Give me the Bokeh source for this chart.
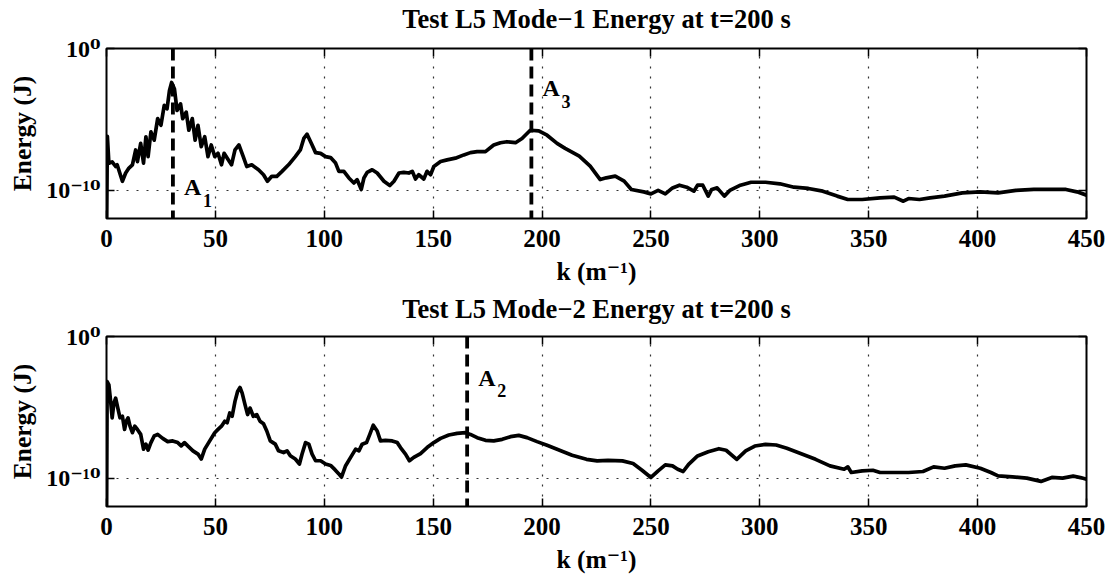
import numpy as np
from bokeh.plotting import figure
from bokeh.layouts import column
from bokeh.models import (Range1d, FixedTicker, LinearAxis, LogAxis, Span,
                          ColumnDataSource)
from bokeh.core.properties import value
from bokeh.embed import file_html
from bokeh.resources import INLINE

FONT = "Liberation Serif"
FONT_SUP = "Liberation Serif, DejaVu Serif"

# ---------------- data ----------------
x_ticks = [0, 50, 100, 150, 200, 250, 300, 350, 400, 450]
x_tick_labels = ["0", "50", "100", "150", "200", "250", "300", "350", "400", "450"]
y_ticks = [1e-10, 1e0]
y_tick_labels = ["10\u207b\u00b9\u2070", "10\u2070"]

title_1 = "Test L5 Mode\u22121 Energy at t=200 s"
title_2 = "Test L5 Mode\u22122 Energy at t=200 s"
x_label = "k (m\u207b\u00b9)"
y_label = "Energy (J)"

# Mode-1 spectrum: wavenumber k (1/m) and log10 of energy (J)
k_mode1 = [0, 0.4, 1.1, 2.6, 4.2, 4.9, 7.3, 8.8, 10.3, 11.9, 13.4, 14.2, 15.7, 17.0, 18.1,
           19.1, 20.4, 21.9, 23.5, 25.0, 26.5, 27.8, 28.9, 29.9, 31.2, 32.4, 34.0, 35.0,
           36.6, 37.8, 39.4, 40.7, 42.0, 43.5, 45.1, 46.6, 48.1, 49.7, 51.2, 52.8, 54.0,
           55.9, 57.4, 59.0, 60.8, 62.8, 64.4, 66.7, 69.8, 72.1, 73.9, 75.9, 78.2, 80.6,
           83.6, 86.7, 89.0, 90.6, 92.1, 94.1, 96.0, 98.3, 100.6, 102.9, 105.2, 106.7,
           109.0, 111.3, 113.6, 115.1, 117.0, 118.2, 119.7, 122.0, 124.3, 127.4, 130.1,
           132.0, 134.3, 136.5, 138.8, 140.4, 141.9, 143.4, 145.7, 147.2, 148.8, 150.3,
           153.4, 156.4, 160.2, 164.1, 167.1, 170.2, 174.0, 177.8, 180.9, 183.9, 187.8,
           190.8, 194.6, 198.5, 202.3, 206.9, 210.6, 217.1, 222.1, 226.7, 229.5, 233.6,
           237.7, 241.0, 246.7, 250.0, 253.3, 256.6, 259.9, 263.1, 266.4, 269.7, 271.4,
           273.8, 276.3, 277.9, 280.4, 283.7, 286.2, 291.1, 296.0, 302.6, 309.2, 315.7,
           322.3, 328.9, 335.5, 340.4, 347.0, 355.2, 361.7, 365.9, 368.3, 373.3, 378.2,
           384.8, 393.0, 401.2, 409.4, 417.6, 425.8, 434.1, 440.6, 445.6, 450.0]
log_e_mode1 = [-14, -6.2, -8.1, -8.0, -8.33, -8.21, -9.37, -8.79, -8.44, -8.21, -7.16, -7.98,
               -6.70, -8.09, -6.23, -7.63, -5.88, -6.47, -4.95, -5.42, -4.02, -4.26, -2.98,
               -2.40, -2.86, -4.37, -3.91, -4.95, -4.49, -5.77, -4.95, -6.47, -5.42, -6.93,
               -6.23, -7.63, -6.81, -7.63, -7.40, -8.21, -7.40, -7.86, -8.21, -7.16, -6.81,
               -7.63, -8.33, -8.21, -8.56, -8.91, -9.37, -9.02, -9.02, -8.67, -8.21, -7.63,
               -7.16, -6.35, -6.05, -6.70, -7.35, -7.40, -7.63, -7.70, -8.09, -8.67, -8.67,
               -9.14, -9.49, -9.26, -9.95, -9.14, -8.74, -8.56, -8.79, -9.37, -9.67, -9.37,
               -8.79, -8.74, -8.79, -8.67, -9.21, -8.91, -9.21, -8.67, -8.91, -8.33, -7.98,
               -7.86, -7.74, -7.51, -7.35, -7.28, -7.28, -6.81, -6.65, -6.58, -6.65, -6.35,
               -5.77, -5.81, -6.12, -6.70, -7.05, -7.60, -8.31, -9.25, -9.13, -9.01, -9.36,
               -9.95, -10.12, -10.26, -10.02, -10.26, -9.84, -9.65, -9.79, -10.07, -9.65,
               -9.65, -10.42, -9.95, -9.84, -10.42, -10.02, -9.65, -9.44, -9.44, -9.55,
               -9.79, -9.88, -10.07, -10.42, -10.66, -10.66, -10.54, -10.49, -10.78, -10.59,
               -10.66, -10.54, -10.42, -10.19, -10.12, -10.19, -10.02, -9.95, -9.95, -9.95,
               -10.12, -10.35]

# Mode-2 spectrum
k_mode2 = [0, 0.3, 1.1, 1.9, 2.6, 3.4, 4.2, 5.2, 6.2, 7.3, 8.3, 9.1, 9.9, 10.8, 11.9, 13.0,
           14.2, 15.7, 17.0, 18.1, 19.1, 20.4, 21.9, 23.5, 25.8, 28.1, 30.4, 32.7, 34.3,
           35.8, 37.3, 39.7, 42.0, 43.5, 45.1, 47.4, 49.7, 51.2, 52.8, 54.3, 55.4, 56.6,
           57.7, 59.0, 60.2, 61.3, 62.3, 63.6, 64.8, 65.9, 67.4, 69.0, 70.5, 72.1, 73.6,
           75.2, 77.5, 79.0, 81.3, 82.9, 84.4, 86.7, 88.6, 89.8, 91.4, 92.9, 94.4, 96.0,
           98.3, 100.6, 102.9, 104.9, 106.7, 107.9, 109.8, 112.1, 114.4, 115.9, 117.4,
           119.4, 120.9, 122.5, 124.3, 125.8, 128.1, 131.2, 133.5, 135.0, 137.3, 139.1,
           141.1, 144.2, 147.2, 150.3, 153.4, 157.2, 161.0, 164.8, 167.1, 170.2, 174.0,
           177.8, 181.7, 185.5, 189.3, 193.1, 197.7, 202.3, 208.9, 213.8, 220.4, 225.3,
           230.3, 236.9, 241.8, 245.9, 250.0, 253.3, 256.6, 259.9, 262.3, 264.8, 267.3,
           271.4, 276.3, 281.2, 284.5, 289.4, 293.5, 297.7, 302.6, 307.5, 312.4, 319.0,
           325.6, 332.2, 338.7, 340.4, 342.0, 347.0, 351.9, 355.2, 360.1, 368.3, 374.9,
           379.8, 384.8, 389.7, 394.6, 401.2, 406.1, 409.4, 416.0, 422.6, 429.1, 434.1,
           439.0, 443.9, 447.2, 450.0]
log_e_mode2 = [-14, -3.19, -3.42, -4.58, -5.74, -4.70, -4.35, -5.05, -5.74, -5.63, -6.56,
               -5.98, -5.74, -6.33, -6.79, -6.33, -6.56, -6.91, -7.95, -7.60, -8.02, -7.49,
               -7.02, -6.91, -7.19, -7.42, -7.37, -7.49, -7.72, -7.49, -7.72, -8.07, -8.30,
               -8.65, -7.95, -7.37, -6.79, -6.56, -6.33, -5.98, -6.09, -5.40, -5.63, -4.58,
               -3.88, -3.60, -4.00, -4.81, -5.51, -5.05, -5.63, -5.51, -5.98, -6.16, -6.67,
               -7.37, -7.60, -8.07, -8.19, -8.07, -8.42, -8.65, -9.00, -8.30, -7.49, -7.60,
               -8.30, -8.77, -8.77, -9.00, -9.10, -9.40, -9.70, -9.93, -9.12, -8.53, -7.95,
               -8.07, -7.60, -7.49, -6.91, -6.26, -6.67, -7.37, -7.33, -7.37, -7.49, -7.84,
               -8.30, -8.77, -8.53, -8.26, -7.84, -7.49, -7.19, -6.95, -6.84, -6.79, -6.91,
               -7.14, -7.33, -7.37, -7.26, -7.07, -6.98, -7.14, -7.42, -7.68, -8.08, -8.38,
               -8.67, -8.78, -8.74, -8.78, -8.97, -9.44, -9.95, -9.48, -9.06, -9.13, -9.37,
               -9.53, -9.02, -8.43, -8.13, -7.92, -8.03, -8.67, -8.08, -7.73, -7.61, -7.66,
               -7.89, -8.27, -8.67, -9.13, -9.37, -9.20, -9.60, -9.48, -9.44, -9.60, -9.60,
               -9.60, -9.53, -9.20, -9.30, -9.13, -9.06, -9.30, -9.60, -9.84, -9.91, -10.0,
               -10.23, -9.95, -10.0, -9.86, -9.95, -10.07]

# marked wavenumbers and their labels
marks_1_k = [30.5, 195.1]
marks_1_label_log = [-9.8, -2.8]
marks_1_main = ["A", "A"]
marks_1_sub = ["1", "3"]

marks_2_k = [165.6]
marks_2_label_log = [-2.9]
marks_2_main = ["A"]
marks_2_sub = ["2"]


def style_ticks(ax):
    ax.axis_line_color = None
    ax.major_tick_in = 8
    ax.major_tick_out = 0
    ax.major_tick_line_color = "black"
    ax.major_tick_line_width = 1.5
    ax.minor_tick_line_color = None


def make_panel(title, k, log_e, mk, mlog, mmain, msub, height, top_border):
    p = figure(width=1112, height=height, title=None,
               x_range=Range1d(0, 450), y_range=Range1d(1e-12, 1e0),
               y_axis_type="log", output_backend="svg", toolbar_location=None,
               min_border_left=106, min_border_right=26,
               min_border_top=top_border, min_border_bottom=height - top_border - 171)
    p.background_fill_color = "white"
    p.border_fill_color = "white"
    p.outline_line_color = "black"
    p.outline_line_width = 2

    xa = p.xaxis[0]
    xa.ticker = FixedTicker(ticks=x_ticks)
    xa.major_label_overrides = {t: l for t, l in zip(x_ticks, x_tick_labels)}
    xa.axis_label = x_label
    ya = p.yaxis[0]
    ya.ticker = FixedTicker(ticks=y_ticks)
    ya.major_label_overrides = {t: l for t, l in zip(y_ticks, y_tick_labels)}
    ya.axis_label = y_label

    for ax in (xa, ya):
        style_ticks(ax)
        ax.major_label_text_font = FONT_SUP
        ax.major_label_text_font_style = "bold"
        ax.major_label_text_font_size = "25px"
        ax.major_label_text_color = "black"
        ax.axis_label_text_font = FONT_SUP
        ax.axis_label_text_font_style = "bold"
        ax.axis_label_text_font_size = "25.5px"
        ax.axis_label_text_color = "black"
    ya.major_label_text_font_size = "24px"
    xa.major_label_standoff = 11
    xa.axis_label_standoff = 7
    ya.major_label_standoff = 6
    ya.axis_label_standoff = 6

    # top edge: tick marks (no labels) and the panel title above the box
    top = LinearAxis(ticker=FixedTicker(ticks=x_ticks),
                     major_label_overrides={t: "" for t in x_ticks},
                     major_label_standoff=0, major_label_text_font_size="10px")
    style_ticks(top)
    top.axis_label = title
    top.axis_label_text_font = FONT
    top.axis_label_text_font_style = "bold"
    top.axis_label_text_font_size = "26.5px"
    top.axis_label_text_color = "black"
    top.axis_label_standoff = top_border - 32
    right = LogAxis(ticker=FixedTicker(ticks=y_ticks),
                    major_label_overrides={t: "" for t in y_ticks},
                    major_label_standoff=0, major_label_text_font_size="10px")
    style_ticks(right)
    p.add_layout(top, "above")
    p.add_layout(right, "right")

    for g in (p.xgrid[0], p.ygrid[0]):
        g.grid_line_color = "#333333"
        g.grid_line_width = 1.2
        g.grid_line_dash = "2 8"

    src = ColumnDataSource(dict(k=k, e=[10.0 ** v for v in log_e]))
    p.line("k", "e", source=src, line_color="black", line_width=3.7, line_join="round")

    for loc in mk:
        p.add_layout(Span(location=loc, dimension="height", line_color="black",
                          line_width=3.8, line_dash="12 6"))

    lsrc = ColumnDataSource(dict(k=mk, y=[10.0 ** v for v in mlog], main=mmain, sub=msub))
    p.text("k", "y", text="main", source=lsrc, x_offset=11, y_offset=0,
           text_font=value(FONT), text_font_style="bold", text_font_size="24px",
           text_color="black", text_baseline="alphabetic", text_align="left")
    p.text("k", "y", text="sub", source=lsrc, x_offset=30, y_offset=13,
           text_font=value(FONT), text_font_style="bold", text_font_size="18px",
           text_color="black", text_baseline="alphabetic", text_align="left")
    return p


p1 = make_panel(title_1, k_mode1, log_e_mode1, marks_1_k, marks_1_label_log,
                marks_1_main, marks_1_sub, 290, 47)
p2 = make_panel(title_2, k_mode2, log_e_mode2, marks_2_k, marks_2_label_log,
                marks_2_main, marks_2_sub, 289, 45)

layout = column(p1, p2, spacing=0)
open("out.html", "w").write(file_html(layout, INLINE))
